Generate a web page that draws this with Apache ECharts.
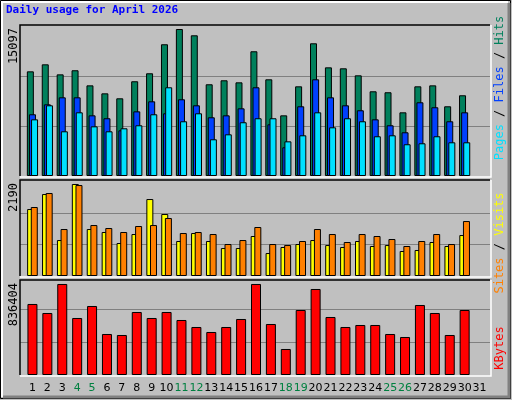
<!DOCTYPE html>
<html><head><meta charset="utf-8">
<script src="https://cdn.jsdelivr.net/npm/echarts@6/dist/echarts.min.js"></script>
<style>html,body{margin:0;padding:0;background:#c0c0c0}#c{width:512px;height:400px}</style>
</head><body><div id="c"></div>
<script>
const days = Array.from({length:31},(_,i)=>String(i+1));
const weekend = ['4','5','11','12','18','19','25','26'];
const hits = [10750,11470,10440,10860,9310,8490,7980,9730,10550,13530,15097,14450,9420,9830,9620,12810,9930,6230,9210,13630,11160,11060,10340,8700,8600,6540,9210,9310,7160,8290,null];
const files = [6340,7360,8080,8080,6230,5930,4690,6640,7670,6440,7880,7260,6030,6230,6950,9110,5310,2950,7160,9930,8080,7260,6750,5820,5210,4490,7570,7060,5620,6540,null];
const pages = [5820,7260,4590,6540,5100,4590,4900,5210,6340,9110,5620,6440,3770,4280,5520,5930,5930,3560,4180,6540,5000,5930,5620,4080,4180,3260,3360,4080,3460,3460,null];
const visits = [1594,1951,856,2190,1118,1047,785,999,1832,1475,833,1023,833,666,666,952,547,690,761,856,737,690,833,714,737,595,619,809,714,975,null];
const sites = [1642,1975,1118,2165,1213,1142,1047,1190,1213,1380,1023,1047,999,761,856,1166,761,737,833,1118,999,809,999,952,880,714,833,999,761,1308,null];
const kbytes = [652600,569800,836404,523900,634200,376800,367600,579000,523900,579000,505500,441200,395200,441200,514700,836404,468800,239000,597400,790400,533100,441200,459600,459600,376800,349300,643400,569800,367600,597400,null];
const maxLabels = ['15097','2190','836404'];

const chart = echarts.init(document.getElementById('c'));
const L=20, W=470, GL=25, GW=462;
const panels=[{top:25,h:151},{top:180,h:96},{top:280,h:95}];
const grids = panels.map(p=>({left:GL,width:GW,top:p.top,height:p.h,show:false}));
const xAxes = panels.map((p,i)=>({type:'category',gridIndex:i,data:days,
  axisLine:{show:false},axisTick:{show:false},
  axisLabel:{show:i===2,interval:0,fontFamily:'DejaVu Sans',fontSize:11,margin:8,
    color:(v)=>weekend.includes(v)?'#008040':'#000'}}));
const yCfg=[[15508,5135],[2285,750],[873000,303300]];
const yAxes = yCfg.map((c,i)=>({type:'value',gridIndex:i,min:0,max:c[0],interval:c[1],
  axisLabel:{show:false},axisLine:{show:false},axisTick:{show:false},
  splitLine:{show:false}}));
const bs={borderColor:'#000',borderWidth:1};
const series=[
 {type:'bar',xAxisIndex:0,yAxisIndex:0,data:hits,barWidth:7,barGap:'-70%',itemStyle:{color:'#00805c',...bs}},
 {type:'bar',xAxisIndex:0,yAxisIndex:0,data:files,barWidth:7,barGap:'-70%',itemStyle:{color:'#0040ff',...bs}},
 {type:'bar',xAxisIndex:0,yAxisIndex:0,data:pages,barWidth:7,barGap:'-70%',itemStyle:{color:'#00e0ff',...bs}},
 {type:'bar',xAxisIndex:1,yAxisIndex:1,data:visits,barWidth:7,barGap:'-48%',itemStyle:{color:'#ffff00',...bs}},
 {type:'bar',xAxisIndex:1,yAxisIndex:1,data:sites,barWidth:7,barGap:'-48%',itemStyle:{color:'#ff8000',...bs}},
 {type:'bar',xAxisIndex:2,yAxisIndex:2,data:kbytes,barWidth:10,itemStyle:{color:'#ff0000',...bs}}
];
const g=[];
g.push({type:'rect',shape:{x:0.5,y:0.5,width:510,height:398},style:{fill:null,stroke:'#000',lineWidth:1},z:-1});
g.push({type:'polyline',shape:{points:[[2,397],[2,2],[508,2]]},style:{stroke:'#fff',lineWidth:2,fill:null}});
g.push({type:'polyline',shape:{points:[[3,397],[509,397],[509,3]]},style:{stroke:'#808080',lineWidth:3,fill:null}});
panels.forEach((p,i)=>{
  // grid lines at the value-axis intervals, drawn across the full frame
  [1,2].forEach(k=>{
    const y=Math.round(p.top+p.h-(k*yCfg[i][1]/yCfg[i][0])*p.h)+0.5;
    g.push({type:'line',shape:{x1:L,y1:y,x2:L+W,y2:y},style:{stroke:'#808080',lineWidth:1},z:-1});
  });
  g.push({type:'polyline',shape:{points:[[L,p.top+p.h],[L,p.top],[L+W,p.top]]},style:{stroke:'#000',lineWidth:1.5,fill:null},z:10});
  g.push({type:'polyline',shape:{points:[[L,p.top+p.h+1],[L+W+1,p.top+p.h+1],[L+W+1,p.top]]},style:{stroke:'#fff',lineWidth:1.5,fill:null},z:10});
});
g.push({type:'text',left:6,top:5,style:{text:'Daily usage for April 2026',fill:'#0000ff',font:'bold 11px "DejaVu Sans Mono"'}});
panels.forEach((p,i)=>{
  g.push({type:'text',x:8,y:p.top+3,rotation:Math.PI/2,style:{text:maxLabels[i],fill:'#000',font:'12px "DejaVu Sans Mono"',align:'right',verticalAlign:'top'}});
});
const rf='12px "DejaVu Sans Mono"';
function vlabel(cy,parts){
  const rich={};let txt='';
  parts.forEach((pt,k)=>{rich['s'+k]={fill:pt[1],font:rf};txt+='{s'+k+'|'+pt[0]+'}';});
  g.push({type:'text',x:500,y:cy,rotation:Math.PI/2,style:{text:txt,rich:rich,align:'center',verticalAlign:'middle'}});
}
vlabel(88,[['Pages','#00e0ff'],[' / ','#000'],['Files','#0040ff'],[' / ','#000'],['Hits','#00805c']]);
vlabel(243,[['Sites','#ff8000'],[' / ','#000'],['Visits','#ffff00']]);
vlabel(348,[['KBytes','#ff0000']]);
chart.setOption({animation:false,backgroundColor:'#c0c0c0',grid:grids,xAxis:xAxes,yAxis:yAxes,series:series,graphic:g});
</script></body></html>
